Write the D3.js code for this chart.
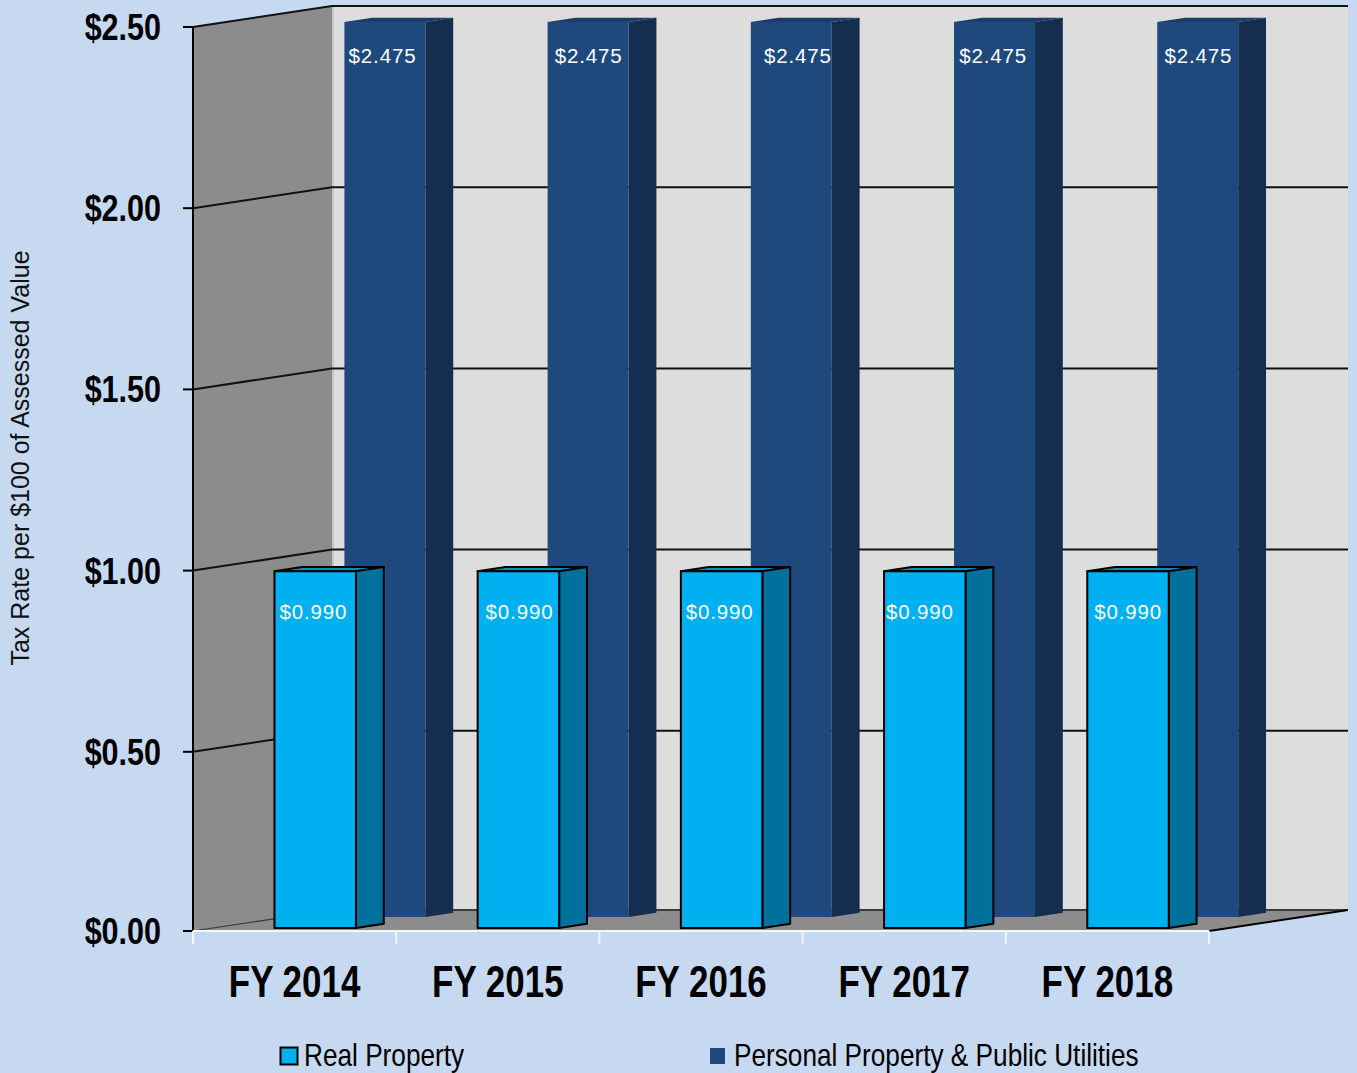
<!DOCTYPE html>
<html><head><meta charset="utf-8">
<script src="https://cdnjs.cloudflare.com/ajax/libs/d3/7.8.5/d3.min.js"></script>
<style>html,body{margin:0;padding:0;background:#c6d9f1;overflow:hidden}svg{display:block}</style>
</head><body><svg id="c" width="1357" height="1073"></svg>
<script>
const categories = ["FY 2014","FY 2015","FY 2016","FY 2017","FY 2018"];
const realProperty = [0.99,0.99,0.99,0.99,0.99];
const personalProperty = [2.475,2.475,2.475,2.475,2.475];
const yTicks = [0,0.5,1,1.5,2,2.5];
const seriesNames = ["Real Property","Personal Property & Public Utilities"];

const svg = d3.select("#c");
const sans = "'Liberation Sans',sans-serif";
const x = d3.scaleBand().domain(categories).range([193,1209]);
const yRaw = d3.scaleLinear().domain([0,2.5]).range([933,27]);
const y = v => yRaw(v) - (v===0 ? 2 : 0);   // floor sits a little above the extrapolated zero
const dx = d3.scaleLinear().domain([0,1]).range([0,139]);
const dy = d3.scaleLinear().domain([0,1]).range([0,-21]);
const P = (px,val,d)=>[px+dx(d), y(val)+dy(d)];
const poly = pts => pts.map(p=>p.join(",")).join(" ");
const x0=x.range()[0], x1=x.range()[1];

// walls
svg.append("polygon").attr("points",poly([P(x0,2.5,1),P(x1,2.5,1),P(x1,0,1),P(x0,0,1)])).attr("fill","#dddddd");
svg.append("polygon").attr("points",poly([P(x0,2.5,0),P(x0,2.5,1),P(x0,0,1),P(x0,0,0)])).attr("fill","#8c8c8c");
svg.append("polygon").attr("points",poly([P(x0,0,0),P(x0,0,1),P(x1,0,1),P(x1,0,0)])).attr("fill","#8c8c8c");
svg.append("line").attr("x1",P(x0,0,1)[0]+1).attr("x2",P(x0,0,1)[0]+1).attr("y1",P(x0,2.5,1)[1]).attr("y2",P(x0,0,1)[1]).attr("stroke","#c4c4c4").attr("stroke-width",2);

// gridlines
yTicks.forEach(t=>{
  if(t===0){
    svg.append("line").attr("x1",P(x0,0,1)[0]).attr("x2",P(x1,0,1)[0]).attr("y1",P(x0,0,1)[1]).attr("y2",P(x0,0,1)[1]).attr("stroke","#3c3c3c").attr("stroke-width",2);
    svg.append("polyline").attr("points",poly([P(x0,0,0),P(x0,0,1)])).attr("fill","none").attr("stroke","#333").attr("stroke-width",1.2);
    return;
  }
  svg.append("polyline").attr("points",poly([P(x0,t,0),P(x0,t,1),P(x1,t,1)])).attr("fill","none").attr("stroke","#111").attr("stroke-width",2);
});
svg.append("polyline").attr("points",poly([P(x1,0,0),P(x1,0,1)])).attr("fill","none").attr("stroke","#000").attr("stroke-width",2);

// y axis
svg.append("line").attr("x1",x0).attr("x2",x0).attr("y1",y(2.5)).attr("y2",y(0)).attr("stroke","#000").attr("stroke-width",2);
svg.selectAll(".yt").data(yTicks).join("line").attr("x1",x0-10).attr("x2",x0).attr("y1",d=>y(d)).attr("y2",d=>y(d)).attr("stroke","#000").attr("stroke-width",2);
svg.selectAll(".yl").data(yTicks).join("text").attr("transform",d=>`translate(161,${y(d)+13}) scale(0.825,1)`).attr("text-anchor","end")
  .attr("font-family",sans).attr("font-weight","bold").attr("font-size",37).attr("fill","#000").text(d=>"$"+d.toFixed(2));

// x axis
svg.append("line").attr("x1",x0).attr("x2",x1).attr("y1",y(0)).attr("y2",y(0)).attr("stroke","#f4f6f8").attr("stroke-width",2);
svg.selectAll(".xt").data(categories.concat(["end"])).join("line")
  .attr("x1",(d,i)=>x0+i*x.bandwidth()).attr("x2",(d,i)=>x0+i*x.bandwidth()).attr("y1",y(0)).attr("y2",y(0)+13).attr("stroke","#f4f6f8").attr("stroke-width",2);
svg.selectAll(".xl").data(categories).join("text").attr("transform",d=>`translate(${x(d)+x.bandwidth()/2},997) scale(0.795,1)`).attr("text-anchor","middle")
  .attr("font-family",sans).attr("font-weight","bold").attr("font-size",44).attr("fill","#000").text(d=>d);

// 3D bars
function bars(values,o){
  categories.forEach((c,i)=>{
    const l=x(c)+o.offset, r=l+o.width, v=values[i], a=o.depth, b=o.depth+o.thick;
    const g=svg.append("g").attr("stroke",o.stroke).attr("stroke-width",o.sw).attr("stroke-linejoin","round");
    g.append("polygon").attr("points",poly([P(l,v,a),P(l,v,b),P(r,v,b),P(r,v,a)])).attr("fill",o.top);
    g.append("polygon").attr("points",poly([P(r,v,a),P(r,v,b),P(r,0,b),P(r,0,a)])).attr("fill",o.side);
    g.append("polygon").attr("points",poly([P(l,v,a),P(r,v,a),P(r,0,a),P(l,0,a)])).attr("fill",o.front);
  });
}
bars(personalProperty,{offset:58.7,width:81,depth:0.667,thick:0.2,front:"#1f497d",side:"#152e4f",top:"#1a3d69",stroke:"none",sw:0});
bars(realProperty,{offset:62,width:81.5,depth:0.14,thick:0.2,front:"#00b0f0",side:"#00719c",top:"#0090c4",stroke:"#000",sw:2});

// value labels
const nudgeReal=[0,3,0,-3,2], nudgePers=[0,3,9,1,3];
const lab=(vals,nudge,base,yy)=>svg.selectAll(null).data(vals).join("text")
  .attr("x",(d,i)=>x(categories[i])+base+nudge[i]).attr("y",yy).attr("text-anchor","middle")
  .attr("font-family",sans).attr("font-size",20.5).attr("letter-spacing",0.85).attr("fill","#fff").text(d=>"$"+d.toFixed(3));
lab(personalProperty,nudgePers,189.5,63);
lab(realProperty,nudgeReal,120.3,619);

// axis title
svg.append("text").attr("transform","translate(29,458) rotate(-90)").attr("text-anchor","middle")
  .attr("font-family",sans).attr("font-size",25).attr("fill","#111").text("Tax Rate per $100 of Assessed Value");

// legend
svg.append("rect").attr("x",280.5).attr("y",1047.5).attr("width",17).attr("height",17).attr("fill","#00b0f0").attr("stroke","#000").attr("stroke-width",2);
svg.append("rect").attr("x",710).attr("y",1048).attr("width",15).attr("height",16).attr("fill","#1f497d");
svg.selectAll(".lg").data(seriesNames).join("text").attr("transform",(d,i)=>`translate(${[304,734][i]},1066) scale(0.845,1)`)
  .attr("font-family",sans).attr("font-size",31).attr("fill","#000").text(d=>d);
</script></body></html>
